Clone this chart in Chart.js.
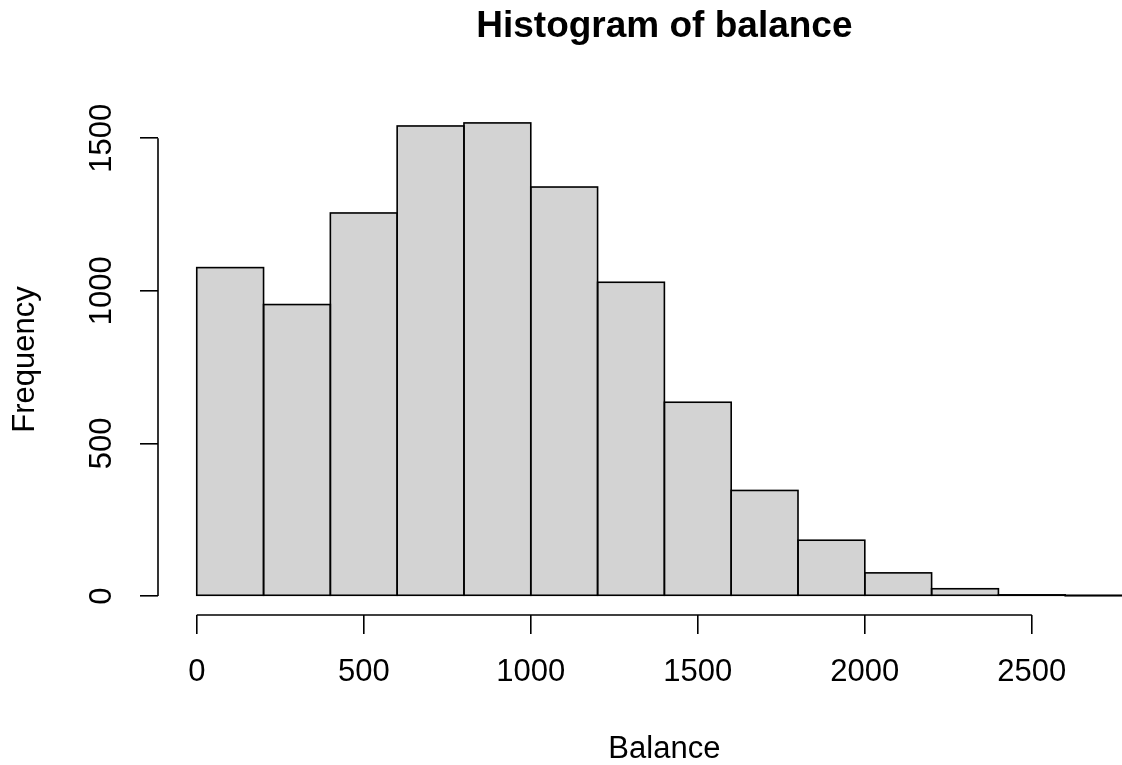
<!DOCTYPE html>
<html>
<head>
<meta charset="utf-8">
<script src="https://cdn.jsdelivr.net/npm/chart.js@4.4.1/dist/chart.umd.min.js"></script>
<style>
  html, body { margin: 0; padding: 0; background: #ffffff; }
  #wrap { width: 1122px; height: 765px; }
</style>
</head>
<body>
<div id="wrap"><canvas id="c" width="1122" height="765"></canvas></div>
<script>
// ---- data ----
const binStarts = [0, 200, 400, 600, 800, 1000, 1200, 1400, 1600, 1800, 2000, 2200, 2400, 2600];
const binWidth = 200;
const counts = [1076, 955, 1255, 1540, 1550, 1340, 1028, 635, 346, 183, 76, 24, 4, 1];
const xTicks = [0, 500, 1000, 1500, 2000, 2500];
const yTicks = [0, 500, 1000, 1500];
const titleText = 'Histogram of balance';
const xTitle = 'Balance';
const yTitle = 'Frequency';

const FONT = '"Liberation Sans", Arial, Helvetica, sans-serif';

const points = binStarts.map((b, i) => ({ x: b + binWidth / 2, y: counts[i] }));

// R-style centred outlines for the histogram bars, taken from the bar elements
const barOutline = {
  id: 'barOutline',
  afterDatasetsDraw(chart) {
    const ctx = chart.ctx;
    const area = chart.chartArea;
    const meta = chart.getDatasetMeta(0);
    ctx.save();
    ctx.beginPath();
    ctx.rect(area.left, area.top, area.right - area.left, area.bottom - area.top);
    ctx.clip();
    ctx.strokeStyle = '#000';
    ctx.lineWidth = 1.6;
    meta.data.forEach(el => {
      const p = el.getProps(['x', 'y', 'base', 'width'], true);
      ctx.strokeRect(p.x - p.width / 2, p.y, p.width, p.base - p.y);
    });
    ctx.restore();
  }
};

// R-style plot frame (axes lines, rotated y labels, titles) drawn through the scales
const rFrame = {
  id: 'rFrame',
  afterDraw(chart) {
    const ctx = chart.ctx;
    const xs = chart.scales.x, ys = chart.scales.y;
    const area = chart.chartArea;
    ctx.save();
    ctx.strokeStyle = '#000';
    ctx.lineWidth = 1.6;
    // x axis line
    ctx.beginPath();
    ctx.moveTo(xs.getPixelForValue(xTicks[0]), area.bottom);
    ctx.lineTo(xs.getPixelForValue(xTicks[xTicks.length - 1]), area.bottom);
    ctx.stroke();
    // y axis line
    ctx.beginPath();
    ctx.moveTo(area.left, ys.getPixelForValue(yTicks[0]));
    ctx.lineTo(area.left, ys.getPixelForValue(yTicks[yTicks.length - 1]));
    ctx.stroke();

    ctx.fillStyle = '#000';
    ctx.textAlign = 'center';
    ctx.textBaseline = 'middle';
    // y tick labels, rotated
    ctx.font = '31px ' + FONT;
    yTicks.forEach(v => {
      ctx.save();
      ctx.translate(102.5, ys.getPixelForValue(v));
      ctx.rotate(-Math.PI / 2);
      ctx.fillText(String(v), 0, 0);
      ctx.restore();
    });
    // y title
    ctx.save();
    ctx.translate(25, (area.top + area.bottom) / 2);
    ctx.rotate(-Math.PI / 2);
    ctx.fillText(yTitle, 0, 0);
    ctx.restore();
    // x title, centred on the histogram's plot range
    const xMid = xs.getPixelForValue((binStarts[0] + binStarts[binStarts.length - 1] + binWidth) / 2);
    ctx.fillText(xTitle, xMid, 749);
    // main title
    ctx.font = 'bold 37px ' + FONT;
    ctx.fillText(titleText, xMid, 27);
    ctx.restore();
  }
};

new Chart(document.getElementById('c'), {
  type: 'bar',
  data: {
    datasets: [{
      data: points,
      backgroundColor: '#d3d3d3',
      borderWidth: 0,
      barPercentage: 1.0,
      categoryPercentage: 1.0
    }]
  },
  options: {
    responsive: false,
    devicePixelRatio: 1,
    animation: false,
    layout: { padding: { top: 104, left: 0, right: 0, bottom: 0 } },
    plugins: {
      legend: { display: false },
      tooltip: { enabled: false },
      title: { display: false }
    },
    scales: {
      x: {
        type: 'linear',
        offset: false,
        min: -116,
        max: 2770,
        afterBuildTicks: (s) => { s.ticks = xTicks.map(v => ({ value: v })); },
        afterFit: (s) => { s.height = 150; },
        border: { display: false },
        grid: { display: true, offset: false, drawOnChartArea: false, drawTicks: true, tickLength: 19, color: '#000', lineWidth: 1.6 },
        ticks: {
          color: '#000',
          font: { family: FONT, size: 31 },
          padding: 20,
          maxRotation: 0,
          minRotation: 0,
          autoSkip: false,
          callback: (v) => String(v)
        }
      },
      y: {
        type: 'linear',
        min: -62,
        max: 1612,
        afterBuildTicks: (s) => { s.ticks = yTicks.map(v => ({ value: v })); },
        afterFit: (s) => { s.width = 158; },
        border: { display: false },
        grid: { display: true, offset: false, drawOnChartArea: false, drawTicks: true, tickLength: 18, color: '#000', lineWidth: 1.6 },
        ticks: { display: false }
      }
    }
  },
  plugins: [barOutline, rFrame]
});
</script>
</body>
</html>
